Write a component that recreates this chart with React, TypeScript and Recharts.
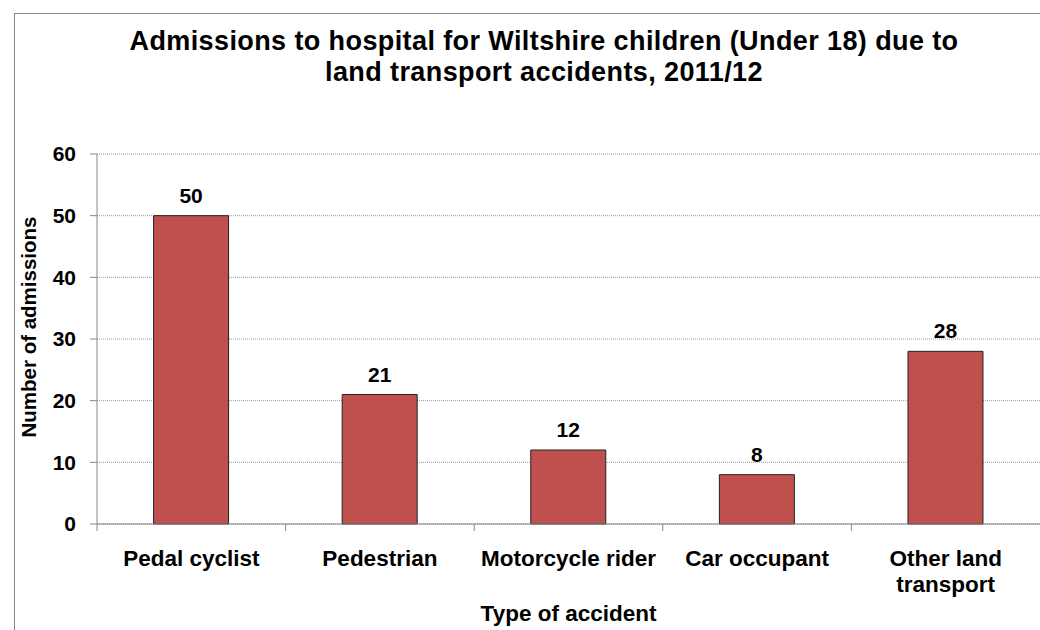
import { Bar, BarChart, CartesianGrid, LabelList, XAxis, YAxis } from "recharts";

const categories = ["Pedal cyclist", "Pedestrian", "Motorcycle rider", "Car occupant", "Other land transport"];
const admissions = [50, 21, 12, 8, 28];
const yTicks = [0, 10, 20, 30, 40, 50, 60];

const data = categories.map((type, i) => ({ type, admissions: admissions[i] }));

const FONT = "'Liberation Sans', Arial, sans-serif";
const TICK_FONT_SIZE = 22.5;

let ctx: CanvasRenderingContext2D | null = null;
function textWidth(s: string) {
  if (!ctx) ctx = document.createElement("canvas").getContext("2d");
  if (!ctx) return s.length * 12;
  ctx.font = `bold ${TICK_FONT_SIZE}px 'Liberation Sans', Arial, sans-serif`;
  return ctx.measureText(s).width;
}

// greedy word wrap to the category band width
function wrap(label: string, maxWidth: number) {
  const lines: string[] = [];
  let cur = "";
  for (const w of label.split(" ")) {
    const next = cur ? cur + " " + w : w;
    if (cur && textWidth(next) > maxWidth) {
      lines.push(cur);
      cur = w;
    } else cur = next;
  }
  if (cur) lines.push(cur);
  return lines;
}

function CategoryTick(props: any) {
  const { x, y, payload } = props;
  const half = payload.offset || 94;
  const lines = wrap(String(payload.value), half * 2 - 4);
  return (
    <g>
      <line x1={x - half} y1={y - 8} x2={x - half} y2={y - 1} stroke="#888" />
      <text x={x} y={y + 34} textAnchor="middle" fontFamily={FONT} fontWeight="bold" fontSize={TICK_FONT_SIZE} fill="#000">
        {lines.map((l, i) => (
          <tspan key={i} x={x} dy={i === 0 ? 0 : 26}>
            {l}
          </tspan>
        ))}
      </text>
    </g>
  );
}

export default function App() {
  return (
    <div style={{ position: "absolute", left: 0, top: 0, width: 1040, height: 630, background: "#fff", overflow: "hidden" }}>
      <div
        style={{
          position: "absolute",
          left: 14,
          top: 13,
          width: 1040,
          height: 630,
          border: "1px solid #888",
          boxSizing: "border-box"
        }}
      />
      <svg style={{ position: "absolute", left: 0, top: 0 }} width={1040} height={630}>
        <text x={544} y={50} textAnchor="middle" fontFamily={FONT} fontWeight="bold" fontSize={27} letterSpacing={0.4}>
          Admissions to hospital for Wiltshire children (Under 18) due to
        </text>
        <text x={544} y={81} textAnchor="middle" fontFamily={FONT} fontWeight="bold" fontSize={27} letterSpacing={0.4}>
          land transport accidents, 2011/12
        </text>
        <text
          transform="translate(36,327) rotate(-90)"
          textAnchor="middle"
          fontFamily={FONT}
          fontWeight="bold"
          fontSize={20.5}
        >
          Number of admissions
        </text>
      </svg>
      <BarChart
        width={1040}
        height={630}
        data={data}
        margin={{ top: 154, right: 0, bottom: 0, left: 0 }}
        barCategoryGap="30%"
        style={{ position: "absolute", left: 0, top: 0 }}
      >
        <CartesianGrid vertical={false} stroke="#999" strokeDasharray="1 1" />
        <XAxis
          dataKey="type"
          stroke="#888"
          tickLine={false}
          interval={0}
          tick={<CategoryTick />}
          label={{
            value: "Type of accident",
            position: "insideBottom",
            offset: 0,
            dy: -9,
            fontFamily: FONT,
            fontWeight: "bold",
            fontSize: 22.5,
            fill: "#000"
          }}
          height={106}
        />
        <YAxis
          width={97}
          domain={[0, 60]}
          ticks={yTicks}
          stroke="#888"
          tickSize={7}
          tickMargin={14}
          tick={{ fontFamily: FONT, fontWeight: "bold", fontSize: 21, fill: "#000" }}
        />
        <Bar dataKey="admissions" fill="#C0504D" stroke="#222" strokeWidth={1} isAnimationActive={false}>
          <LabelList
            dataKey="admissions"
            position="top"
            offset={13}
            fontFamily={FONT}
            fontWeight="bold"
            fontSize={21}
            fill="#000"
          />
        </Bar>
      </BarChart>
    </div>
  );
}
